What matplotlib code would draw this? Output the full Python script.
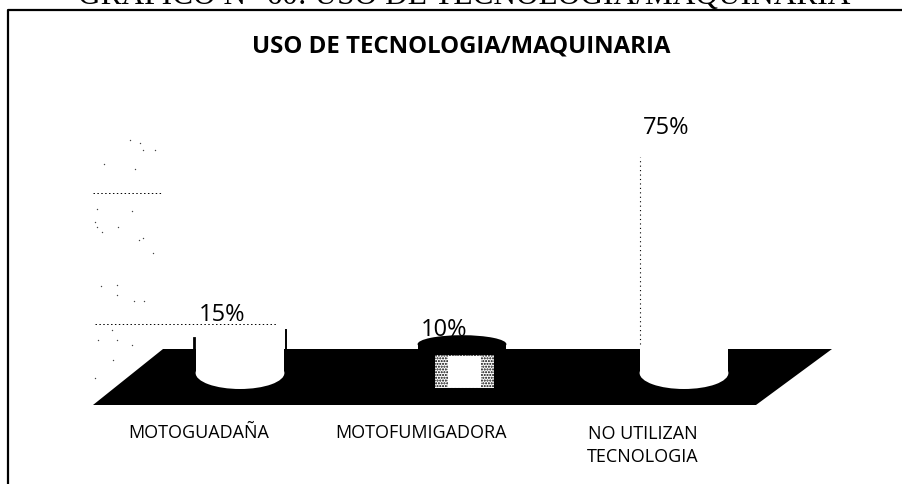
import matplotlib
matplotlib.use("Agg")
import matplotlib.pyplot as plt
from matplotlib.patches import Ellipse, Polygon

categories = ["MOTOGUADAÑA", "MOTOFUMIGADORA", "NO UTILIZAN\nTECNOLOGIA"]
values = [15, 10, 75]
value_labels = ["15%", "10%", "75%"]
label_gaps = [5.2, 4.9, 10]
category_label_levels = [-21, -21, -25.2]
grid_levels = [17, 62.5]
title = "USO DE TECNOLOGIA/MAQUINARIA"
header = "GRÁFICO N° 60: USO DE TECNOLOGIA/MAQUINARIA"
speck_x = [130, 140, 143, 155, 104, 135, 97, 132, 95, 97, 102, 118, 139, 143, 153,
           101, 117, 117, 134, 144, 112, 98, 117, 132, 113, 95]
speck_y = [140, 143, 150, 150, 164, 169, 209, 211, 222, 227, 232, 227, 240, 238, 253,
           286, 285, 295, 301, 301, 330, 340, 340, 345, 360, 378]

W, H = 903, 484
PX_X, PX_Y = 222.0, 2.88
fig = plt.figure(figsize=(W / 100, H / 100), dpi=100, facecolor="white")
ax = fig.add_axes([0, 0, 1, 1])
ax.set_xlim(-240 / PX_X, (W - 240) / PX_X)
ax.set_ylim((373 - H) / PX_Y, 373 / PX_Y)
ax.axis("off")

def px(x, y):
    return (x - 240) / PX_X, (373 - y) / PX_Y

# frame
ax.plot(*zip(px(8, H), px(8, 10), px(W, 10)), color="black", lw=1.6, zorder=1)

# floor of the 3D chart
ax.add_patch(Polygon([px(163, 349), px(832, 349), px(756, 405), px(93, 405)],
                     closed=True, fc="black", ec="none", zorder=2))

# dotted remains of the gridlines and scan specks
ax.plot([px(93, 0)[0], px(162, 0)[0]], [grid_levels[1]] * 2, color="black", lw=0.7,
        ls=(0, (1.5, 2.5)), zorder=1)
ax.plot([px(95, 0)[0], px(276, 0)[0]], [grid_levels[0]] * 2, color="black", lw=0.7,
        ls=(0, (1.5, 2.5)), zorder=5)
ax.scatter([px(x, 0)[0] for x in speck_x], [px(0, y)[1] for y in speck_y],
           s=1.0, color="#444444", linewidths=0, zorder=1)

bw = 0.40
base_h = 32 / PX_Y
top_h = 18 / PX_Y
colors = ["white", "black", "white"]
for i, (v, c) in enumerate(zip(values, colors)):
    ax.bar(i, v, width=bw, bottom=0, color=c, zorder=3)
    ax.add_patch(Ellipse((i, 0), bw, base_h, fc=c, ec="none", zorder=3))
    if i != 0:
        ax.add_patch(Ellipse((i, v), bw, top_h, fc=c, ec="none", zorder=3))
    if i == 1:
        ax.bar(i + 0.01, 11.5, width=0.265, bottom=-5.2, color="white", ec="black",
               hatch="......", lw=0, zorder=4)
        ax.bar(i + 0.01, 10.5, width=0.15, bottom=-4.7, color="white", zorder=4)
    ax.text(i - 0.08, v + label_gaps[i], value_labels[i], ha="center", va="center",
            fontsize=17, family="Open Sans", color="black", zorder=6)
    ax.text(i - 0.185, category_label_levels[i], categories[i], ha="center", va="center",
            fontsize=13, family="Open Sans", linespacing=1.35, color="black", zorder=6)

# edges of the bars
ax.plot([2 - bw / 2] * 2, [10, values[2]], color="black", lw=0.8, ls=(0, (1, 3)), zorder=5)
ax.plot([-bw / 2 - 0.005] * 2, [8, values[0] - 3], color="black", lw=2, zorder=5)
ax.plot([bw / 2 + 0.005] * 2, [8, values[0]], color="black", lw=1.4, zorder=5)

ax.text(*px(461, 47), title, ha="center", va="center", fontsize=17.3, fontweight="bold",
        family="Open Sans", color="black", zorder=6)
ax.text(*px(464, 4), header, ha="center", va="baseline", fontsize=22.6,
        family="Liberation Serif", color="black", zorder=6)

fig.savefig("out.png", dpi=100)
